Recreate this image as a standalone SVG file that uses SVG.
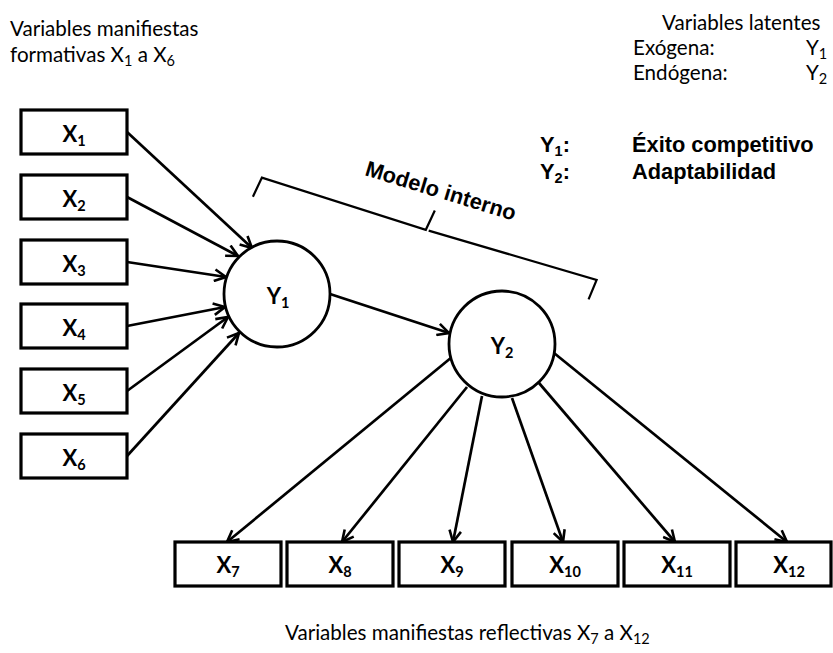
<svg xmlns="http://www.w3.org/2000/svg" width="833" height="653" viewBox="0 0 833 653">
<defs>
<style>
.box{fill:#fff;stroke:#000;stroke-width:3.2}
.circ{fill:#fff;stroke:#000;stroke-width:2.8}
.lbl{font-family:Lato,"Liberation Sans",sans-serif;font-weight:bold;font-size:22px;fill:#000;text-anchor:middle}
.note{font-family:Lato,"Liberation Sans",sans-serif;font-size:20.6px;fill:#000}
.arial{font-family:"Liberation Sans",Arial,sans-serif;font-weight:bold;font-size:21.8px;fill:#000}
.sub{font-size:14.5px}
.conn line{stroke:#000;stroke-width:2.7;marker-end:url(#arr)}
</style>
<marker id="arr" markerUnits="userSpaceOnUse" viewBox="0 0 14 14" refX="12.5" refY="7" markerWidth="14" markerHeight="14" orient="auto">
<path d="M1,1.2 L12.5,7 L1,12.8" fill="none" stroke="#000" stroke-width="2.6" stroke-linejoin="miter"/>
</marker>
</defs>
<rect width="833" height="653" fill="#fff"/>

<g id="legend-formativas">
<text class="note" x="10" y="36">Variables manifiestas</text>
<text class="note" x="10" y="62">formativas X<tspan class="sub" dy="4">1</tspan><tspan dy="-4"> a X</tspan><tspan class="sub" dy="4">6</tspan></text>
</g>

<g id="legend-latentes">
<text class="note" x="662" y="30">Variables latentes</text>
<text class="note" x="633" y="55">Exógena:</text>
<text class="note" x="806" y="55">Y<tspan class="sub" dy="4">1</tspan></text>
<text class="note" x="633" y="80">Endógena:</text>
<text class="note" x="806" y="80">Y<tspan class="sub" dy="4">2</tspan></text>
</g>

<g id="legend-nombres">
<text class="arial" x="540" y="152">Y<tspan class="sub" dy="4">1</tspan><tspan dy="-4">:</tspan></text>
<text class="arial" x="632" y="152">Éxito competitivo</text>
<text class="arial" x="540" y="179">Y<tspan class="sub" dy="4">2</tspan><tspan dy="-4">:</tspan></text>
<text class="arial" x="632" y="179">Adaptabilidad</text>
</g>

<g id="modelo-interno">
<g transform="translate(260,177) rotate(17)">
<path d="M-1,21 L2,0 L174,2 L177,-19 M177,2 L352,0 L350,21" fill="none" stroke="#000" stroke-width="2.2"/>
</g>
<text class="arial" transform="translate(364,175) rotate(17)">Modelo interno</text>
</g>

<g class="conn" id="connectors">
<line x1="127" y1="132" x2="252" y2="248"/>
<line x1="127" y1="197" x2="238" y2="256"/>
<line x1="127" y1="262" x2="226" y2="277"/>
<line x1="127" y1="326" x2="225" y2="307"/>
<line x1="127" y1="391" x2="228" y2="317"/>
<line x1="127" y1="456" x2="239" y2="333"/>
<line x1="330" y1="294" x2="449" y2="333"/>
<line x1="452" y1="357" x2="227" y2="542"/>
<line x1="467" y1="387" x2="342" y2="542"/>
<line x1="482" y1="396" x2="453" y2="542"/>
<line x1="512" y1="398" x2="563" y2="542"/>
<line x1="539" y1="383" x2="675" y2="542"/>
<line x1="554" y1="353" x2="787" y2="542"/>
</g>

<g id="X1"><rect class="box" x="21" y="110" width="106" height="44"/><text class="lbl" x="74" y="142">X<tspan class="sub" dy="4">1</tspan></text></g>
<g id="X2"><rect class="box" x="21" y="175" width="106" height="44"/><text class="lbl" x="74" y="207">X<tspan class="sub" dy="4">2</tspan></text></g>
<g id="X3"><rect class="box" x="21" y="240" width="106" height="44"/><text class="lbl" x="74" y="272">X<tspan class="sub" dy="4">3</tspan></text></g>
<g id="X4"><rect class="box" x="21" y="304" width="106" height="44"/><text class="lbl" x="74" y="336">X<tspan class="sub" dy="4">4</tspan></text></g>
<g id="X5"><rect class="box" x="21" y="369" width="106" height="44"/><text class="lbl" x="74" y="401">X<tspan class="sub" dy="4">5</tspan></text></g>
<g id="X6"><rect class="box" x="21" y="434" width="106" height="44"/><text class="lbl" x="74" y="466">X<tspan class="sub" dy="4">6</tspan></text></g>

<g id="Y1"><circle class="circ" cx="277" cy="294" r="53"/><text class="lbl" x="278" y="304">Y<tspan class="sub" dy="4">1</tspan></text></g>
<g id="Y2"><circle class="circ" cx="502" cy="344" r="53"/><text class="lbl" x="502" y="354">Y<tspan class="sub" dy="4">2</tspan></text></g>

<g id="X7"><rect class="box" x="175" y="542" width="106" height="44"/><text class="lbl" x="228" y="573">X<tspan class="sub" dy="4">7</tspan></text></g>
<g id="X8"><rect class="box" x="287" y="542" width="106" height="44"/><text class="lbl" x="340" y="573">X<tspan class="sub" dy="4">8</tspan></text></g>
<g id="X9"><rect class="box" x="399" y="542" width="106" height="44"/><text class="lbl" x="452" y="573">X<tspan class="sub" dy="4">9</tspan></text></g>
<g id="X10"><rect class="box" x="512" y="542" width="106" height="44"/><text class="lbl" x="565" y="573">X<tspan class="sub" dy="4">10</tspan></text></g>
<g id="X11"><rect class="box" x="624" y="542" width="106" height="44"/><text class="lbl" x="677" y="573">X<tspan class="sub" dy="4">11</tspan></text></g>
<g id="X12"><rect class="box" x="736" y="542" width="95" height="44"/><text class="lbl" x="789" y="573">X<tspan class="sub" dy="4">12</tspan></text></g>

<g id="legend-reflectivas">
<text class="note" x="285" y="640">Variables manifiestas reflectivas X<tspan class="sub" dy="4">7</tspan><tspan dy="-4"> a X</tspan><tspan class="sub" dy="4">12</tspan></text>
</g>
</svg>
